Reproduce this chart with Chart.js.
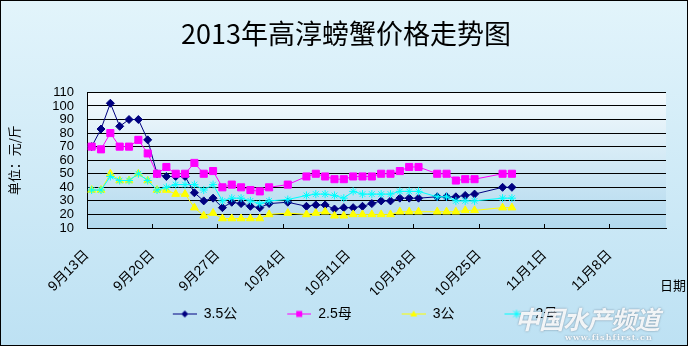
<!DOCTYPE html>
<html>
<head>
<meta charset="utf-8">
<script src="https://cdn.jsdelivr.net/npm/chart.js@4/dist/chart.umd.min.js"></script>
<style>
  html, body { margin: 0; padding: 0; background: #fff; }
  #wrap { position: relative; width: 692px; height: 346px; }
  canvas { display: block; }
  .mark { position: absolute; left: 515px; top: 300px; font: italic bold 25px "Noto Sans CJK SC"; color: rgba(255,255,255,0.9);
          text-shadow: 0 0 2px rgba(90,110,130,0.8); letter-spacing: -1px; }
  .mark small { display: block; font: bold 8px "DejaVu Serif"; letter-spacing: 1px; margin: -4px 0 0 50px; color: rgba(255,255,255,0.9); }
</style>
</head>
<body>
<div id="wrap">
  <canvas id="crabChart" width="692" height="346"></canvas>
  <div class="mark">中国水产频道<small>www.fishfirst.cn</small></div>
</div>
<script>
// days counted from 9月13日
const dayOffsets = [0, 1, 2, 3, 4, 5, 6, 7, 8, 9, 10, 11, 12, 13, 14, 15, 16, 17, 18, 19,
  21, 23, 24, 25, 26, 27, 28, 29, 30, 31, 32, 33, 34, 35, 37, 38, 39, 40, 41, 44, 45]

const male35 = [70, 83, 102, 85, 90, 90, 75, 50, 48, 48, 48, 36, 30, 32, 25, 29, 28, 26, 25, 28,
  29, 26, 27, 27, 24, 25, 25, 26, 28, 30, 30, 32, 32, 32, 33, 33, 33, 34, 35, 40, 40]
const female25 = [70, 68, 80, 70, 70, 75, 65, 50, 55, 50, 50, 58, 50, 52, 40, 42, 40, 38, 37, 40,
  42, 48, 50, 48, 46, 46, 48, 48, 48, 50, 50, 52, 55, 55, 50, 50, 45, 46, 46, 50, 50]
const male3 = [38, 38, 50, 45, 45, 50, 45, 38, 38, 35, 35, 25, 19, 21, 17, 17, 17, 17, 17, 20,
  21, 20, 21, 22, 19, 19, 20, 20, 20, 20, 20, 22, 22, 22, 22, 22, 22, 23, 23, 25, 25]
const female2 = [38, 38, 48, 45, 45, 50, 45, 38, 40, 42, 42, 42, 38, 42, 30, 32, 32, 30, 28, 30,
  31, 34, 35, 35, 34, 32, 37, 35, 35, 35, 35, 37, 37, 37, 33, 33, 30, 30, 30, 32, 32]

const seriesNames = ['3.5公', '2.5母', '3公', '2母']
const xTickLabels = ['9月13日', '9月20日', '9月27日', '10月4日', '10月11日', '10月18日', '10月25日', '11月1日', '11月8日']
const yTicks = [10, 20, 30, 40, 50, 60, 70, 80, 90, 100, 110]

const toPoints = vals => dayOffsets.map((d, i) => ({ x: d + 0.5, y: vals[i] }))

// line + marker swatch for the legend, blank space on the left keeps the items apart
const ICON_W = 62
const LINE_W = 24
function legendIcon(color, style) {
  const c = document.createElement('canvas')
  c.width = ICON_W; c.height = 11
  const g = c.getContext('2d')
  const x0 = ICON_W - LINE_W
  g.strokeStyle = color; g.fillStyle = color; g.lineWidth = 1
  g.beginPath(); g.moveTo(x0, 5.5); g.lineTo(ICON_W, 5.5); g.stroke()
  const x = x0 + LINE_W / 2, y = 5.5, r = 3.5
  g.beginPath()
  if (style === 'rectRot') { g.moveTo(x, y - r); g.lineTo(x + r, y); g.lineTo(x, y + r); g.lineTo(x - r, y); g.closePath(); g.fill() }
  else if (style === 'rect') { g.fillRect(x - 3, y - 3, 6, 6) }
  else if (style === 'triangle') { g.moveTo(x, y - r); g.lineTo(x + r, y + r * 0.7); g.lineTo(x - r, y + r * 0.7); g.closePath(); g.fill() }
  else { g.moveTo(x - 3, y - 3); g.lineTo(x + 3, y + 3); g.moveTo(x + 3, y - 3); g.lineTo(x - 3, y + 3); g.moveTo(x, y - 4); g.lineTo(x, y + 4); g.stroke() }
  return c
}

const backdrop = {
  id: 'backdrop',
  beforeDraw(chart) {
    const { ctx, chartArea: a } = chart
    ctx.save()
    let g = ctx.createLinearGradient(0, 0, 0, 346)
    g.addColorStop(0, '#e2f4fb')
    g.addColorStop(1, '#bde1f3')
    ctx.fillStyle = g
    ctx.fillRect(0, 0, 688, 346)
    g = ctx.createLinearGradient(0, a.top, 0, a.bottom)
    g.addColorStop(0, '#f4fafd')
    g.addColorStop(1, '#b2d9ee')
    ctx.fillStyle = g
    ctx.fillRect(a.left, a.top, a.right - a.left, a.bottom - a.top)
    ctx.restore()
  },
  afterDraw(chart) {
    const { ctx } = chart
    ctx.save()
    ctx.fillStyle = '#000'
    ctx.font = '13px "Noto Sans CJK SC"'
    ctx.textBaseline = 'middle'
    ctx.fillText('日期', 660, 285)
    ctx.strokeStyle = '#000'
    ctx.lineWidth = 1
    ctx.strokeRect(0.5, 0.5, 687, 345)
    ctx.restore()
  }
}

const colors = ['#000080', '#ff00ff', '#ffff00', '#00ffff']
const styles = ['rectRot', 'rect', 'triangle', 'star']
const radii = [4, 5, 4.5, 4]
const values = [male35, female25, male3, female2]

const data = {
  datasets: values.map((v, i) => ({
    label: seriesNames[i],
    data: toPoints(v),
    borderColor: colors[i],
    backgroundColor: colors[i],
    borderWidth: 1,
    pointStyle: styles[i],
    pointRadius: radii[i],
    pointBorderWidth: 1,
    tension: 0,
    order: 4 - i
  }))
}

const cjk = '"Liberation Sans", "Noto Sans CJK SC", sans-serif'

const config = {
  type: 'line',
  data,
  options: {
    responsive: false,
    animation: false,
    layout: { padding: { left: 0, right: 0, top: 0, bottom: 15 } },
    plugins: {
      title: {
        display: true,
        text: '2013年高淳螃蟹价格走势图',
        color: '#000',
        font: { family: '"Noto Sans CJK SC"', size: 27, weight: 'normal' },
        padding: { top: 18, bottom: 42 }
      },
      legend: {
        position: 'bottom',
        labels: {
          usePointStyle: true,
          pointStyleWidth: ICON_W,
          padding: 12,
          color: '#000',
          font: { family: cjk, size: 14 },
          generateLabels: chart => chart.data.datasets.map((ds, i) => ({
            text: ds.label,
            pointStyle: legendIcon(colors[i], styles[i]),
            fillStyle: 'transparent',
            strokeStyle: 'transparent',
            lineWidth: 0,
            fontColor: '#000',
            hidden: false,
            datasetIndex: i
          }))
        }
      },
      tooltip: { enabled: false }
    },
    scales: {
      x: {
        type: 'linear',
        min: 0,
        max: 62,
        afterBuildTicks: s => { s.ticks = xTickLabels.map((_, i) => ({ value: i * 7 })) },
        afterFit: s => { s.height = 67 },
        ticks: {
          autoSkip: false,
          minRotation: 45,
          maxRotation: 45,
          padding: 23,
          color: '#000',
          font: { family: cjk, size: 14 },
          callback: v => xTickLabels[v / 7]
        },
        grid: { drawOnChartArea: false, drawTicks: true, tickLength: -4, color: '#000' },
        border: { color: '#000' }
      },
      y: {
        min: 10,
        max: 110,
        afterBuildTicks: s => { s.ticks = yTicks.map(v => ({ value: v })) },
        afterFit: s => { s.width = 87 },
        ticks: { autoSkip: false, padding: 13, color: '#000', font: { family: cjk, size: 13 } },
        grid: { color: '#000', drawTicks: false },
        border: { color: '#000' },
        title: {
          display: true,
          text: '单位：元/斤',
          color: '#000',
          font: { family: '"Noto Sans CJK SC"', size: 13 },
          padding: { top: 6, bottom: 0 }
        }
      },
      // empty strip on the right of the plot
      yRight: {
        position: 'right',
        ticks: { display: false },
        grid: { display: false },
        border: { display: false },
        afterFit: s => { s.width = 26 }
      }
    }
  },
  plugins: [backdrop]
}

const myChart = new Chart(document.getElementById('crabChart'), config)
</script>
</body>
</html>
